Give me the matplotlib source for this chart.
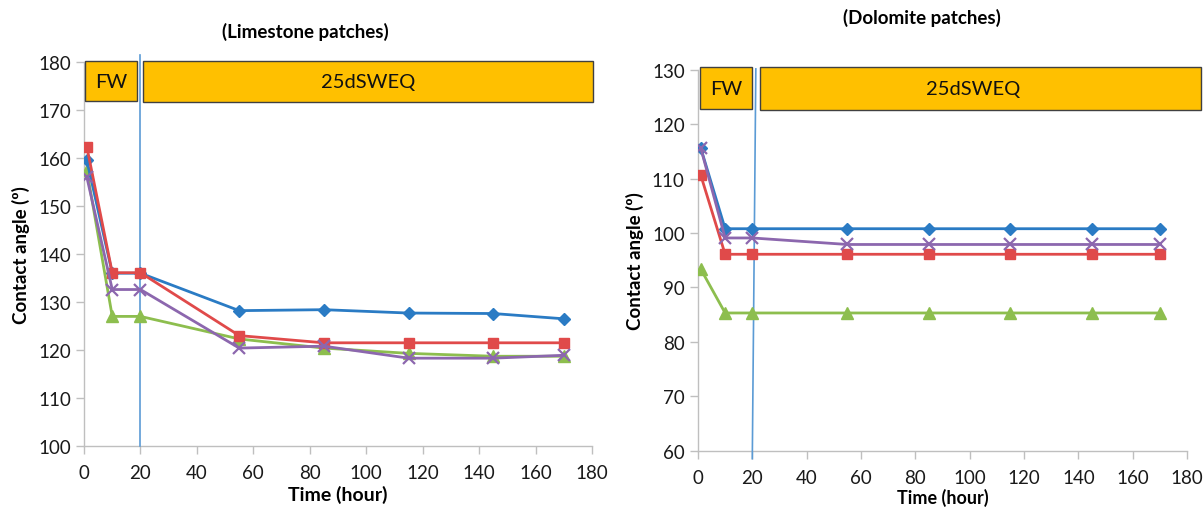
import matplotlib
matplotlib.use("Agg")
import matplotlib.pyplot as plt
from matplotlib.patches import Rectangle

plt.rcParams['font.family'] = ['Lato', 'DejaVu Sans']

# Data
time_h = [1, 10, 20, 55, 85, 115, 145, 170]

lime_blue = [159.5, 136.0, 136.0, 128.2, 128.4, 127.7, 127.6, 126.5]
lime_red = [162.3, 136.1, 136.1, 123.0, 121.5, 121.5, 121.5, 121.5]
lime_green = [157.4, 127.0, 127.0, 122.3, 120.4, 119.3, 118.7, 118.7]
lime_purple = [156.0, 132.6, 132.6, 120.4, 120.8, 118.3, 118.3, 118.9]

dolo_blue = [115.7, 100.8, 100.8, 100.8, 100.8, 100.8, 100.8, 100.8]
dolo_red = [110.7, 96.1, 96.1, 96.1, 96.1, 96.1, 96.1, 96.1]
dolo_green = [93.4, 85.3, 85.3, 85.3, 85.3, 85.3, 85.3, 85.3]
dolo_purple = [115.7, 99.1, 99.1, 97.9, 97.9, 97.9, 97.9, 97.9]

x_ticks = [0, 20, 40, 60, 80, 100, 120, 140, 160, 180]

blue = '#2A7BC4'
red = '#E04A4A'
green = '#8DBE4E'
purple = '#8C67AE'
vline_col = '#5B9BD5'
box_col = '#FFC000'
axis_col = '#BFBFBF'

fig = plt.figure(figsize=(12.04, 5.10), dpi=100)
ax1 = fig.add_axes([0.0698, 0.1235, 0.4219, 0.753])
ax2 = fig.add_axes([0.5797, 0.1147, 0.4062, 0.7461])


def style_axis(ax, ymin, ymax):
    ax.set_xlim(0, 180)
    ax.set_ylim(ymin, ymax)
    ax.set_xticks(x_ticks)
    ax.set_yticks(range(ymin, ymax + 1, 10))
    for s in ['top', 'right']:
        ax.spines[s].set_visible(False)
    for s in ['left', 'bottom']:
        ax.spines[s].set_color(axis_col)
        ax.spines[s].set_linewidth(1.0)
    ax.tick_params(axis='both', colors=axis_col, length=6, width=1.0,
                   labelcolor='#1a1a1a', labelsize=13.5)
    ax.tick_params(axis='x', pad=7)


def draw_series(ax, b, r, g, p):
    ax.plot(time_h, b, color=blue, lw=2, marker='D', ms=6, zorder=5)
    ax.plot(time_h, r, color=red, lw=2, marker='s', ms=7.5, zorder=5)
    ax.plot(time_h, g, color=green, lw=2, marker='^', ms=8, zorder=4)
    ax.plot(time_h, p, color=purple, lw=2, marker='x', ms=8, mew=1.6, zorder=5)


def draw_box(ax, x0, x1, y0, y1, label):
    ax.add_patch(Rectangle((x0, y0), x1 - x0, y1 - y0, facecolor=box_col,
                           edgecolor='#404040', lw=1.0, clip_on=False, zorder=6))
    xc = (x0 + min(x1, 180)) / 2 if x1 > 180 else (x0 + x1) / 2
    ax.text(xc, (y0 + y1) / 2, label, ha='center', va='center', fontsize=14.5,
            color='#111111', zorder=7)


# Limestone
style_axis(ax1, 100, 180)
draw_series(ax1, lime_blue, lime_red, lime_green, lime_purple)
ax1.plot([20, 20], [100, 181.5], color=vline_col, lw=1.2, clip_on=False, zorder=3)
draw_box(ax1, 0.2, 18.8, 171.8, 180.2, 'FW')
draw_box(ax1, 21.0, 180.5, 171.7, 180.2, '25dSWEQ')
ax1.set_xlabel('Time (hour)', fontsize=14, fontweight='bold', labelpad=3)
ax1.set_ylabel('Contact angle (º)', fontsize=13.5, fontweight='bold', labelpad=6)
ax1.text(0.435, 1.081, '(Limestone patches)', transform=ax1.transAxes, ha='center',
         va='center', fontsize=13.5, fontweight='bold')

# Dolomite
style_axis(ax2, 60, 130)
draw_series(ax2, dolo_blue, dolo_red, dolo_green, dolo_purple)
ax2.plot([21.3, 20.0], [130.2, 58.5], color=vline_col, lw=1.2, clip_on=False, zorder=3)
draw_box(ax2, 0.6, 20.0, 122.8, 130.5, 'FW')
draw_box(ax2, 22.7, 185.0, 122.7, 130.5, '25dSWEQ')
ax2.text(0.458, 1.14, '(Dolomite patches)', transform=ax2.transAxes, ha='center',
         va='center', fontsize=13.5, fontweight='bold')
ax2.set_xlabel('Time (hour)', fontsize=13, fontweight='bold', labelpad=2)
ax2.set_ylabel('Contact angle (º)', fontsize=13.5, fontweight='bold', labelpad=6)

fig.savefig('out.png', dpi=100)
